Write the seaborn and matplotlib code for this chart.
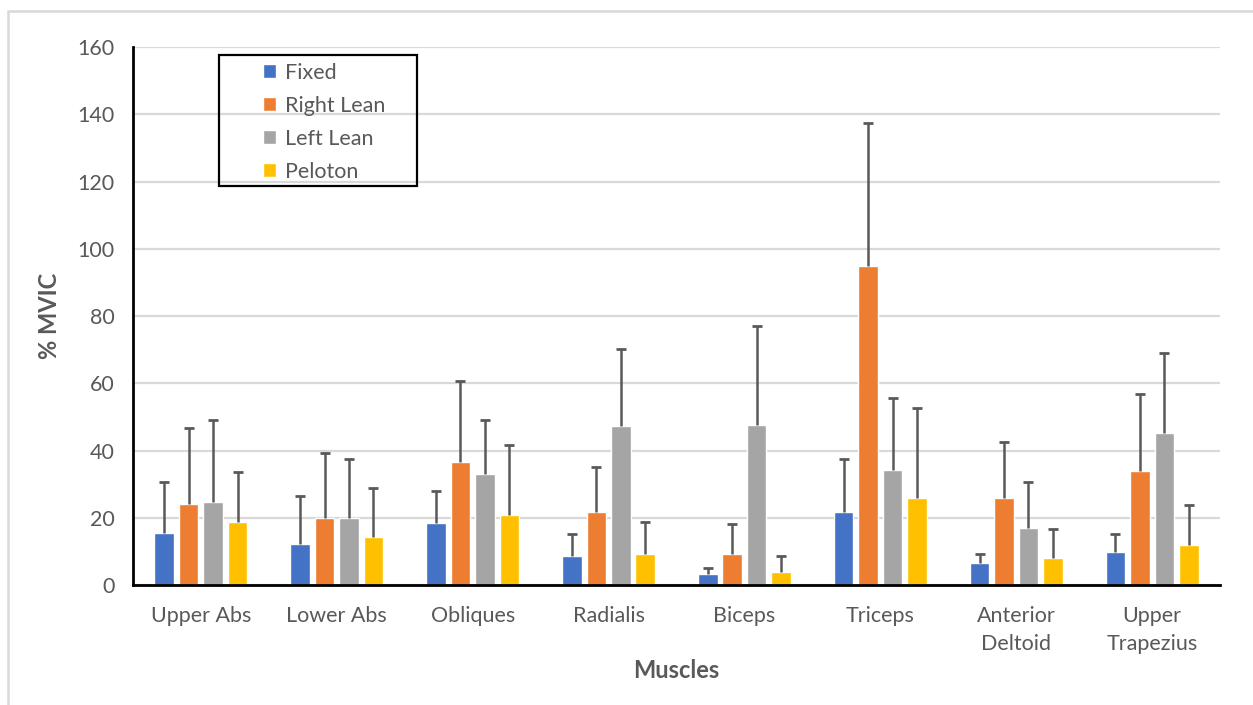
import seaborn as sns
import matplotlib.pyplot as plt
import matplotlib.patches as mpatches
import numpy as np
import pandas as pd


muscles = ['Upper Abs', 'Lower Abs', 'Obliques', 'Radialis', 'Biceps',
           'Triceps', 'Anterior\nDeltoid', 'Upper\nTrapezius']
conditions = ['Fixed', 'Right Lean', 'Left Lean', 'Peloton']

# mean %MVIC per condition
fixed = [15.4, 12.3, 18.3, 8.5, 3.2, 21.8, 6.6, 9.7]
right_lean = [24.0, 19.9, 36.7, 21.8, 9.3, 94.9, 26.0, 33.9]
left_lean = [24.8, 19.9, 33.1, 47.2, 47.6, 34.3, 17.1, 45.3]
peloton = [18.7, 14.2, 20.7, 9.3, 4.0, 26.0, 8.1, 11.9]

# standard deviations (upper error bars only)
fixed_sd = [15.2, 14.2, 9.7, 6.7, 2.0, 15.6, 2.5, 5.5]
right_lean_sd = [22.6, 19.4, 23.9, 13.4, 8.8, 42.4, 16.5, 22.8]
left_lean_sd = [24.4, 17.6, 16.1, 23.0, 29.5, 21.4, 13.5, 23.6]
peloton_sd = [15.0, 14.6, 20.9, 9.5, 4.6, 26.6, 8.5, 11.8]

means = [fixed, right_lean, left_lean, peloton]
sds = [fixed_sd, right_lean_sd, left_lean_sd, peloton_sd]

df = pd.DataFrame({
    'Muscle': np.tile(muscles, len(conditions)),
    'Condition': np.repeat(conditions, len(muscles)),
    'MVIC': np.concatenate(means),
})

palette = ['#4472C4', '#ED7D31', '#A5A5A5', '#FFC000']
text_color = '#595959'
grid_color = '#D9D9D9'

sns.set_style('white')
plt.rcParams['font.family'] = ['Lato', 'DejaVu Sans']

fig = plt.figure(figsize=(12.53, 7.05), dpi=100)
ax = fig.add_axes([0.1061, 0.1702, 0.8676, 0.7631])

sns.barplot(data=df, x='Muscle', y='MVIC', hue='Condition', palette=palette,
            width=0.72, gap=0.2, errorbar=None, saturation=1, ax=ax, zorder=2)

# upper error bars on each bar (hide the cap at the bar top)
for container, sd in zip(ax.containers, sds):
    xs = [p.get_x() + p.get_width() / 2 for p in container.patches]
    hs = [p.get_height() for p in container.patches]
    eb = ax.errorbar(xs, hs, yerr=[np.zeros(len(sd)), sd], fmt='none',
                     ecolor=text_color, elinewidth=1.8, capsize=3.8, capthick=2, zorder=3)
    eb[1][0].set_visible(False)

# axes styling
ax.set_ylim(0, 160)
ax.set_yticks(np.arange(0, 161, 20))
ax.set_xlim(-0.5, 7.5)
ax.yaxis.grid(True, color=grid_color, linewidth=1.6, zorder=0)
ax.set_axisbelow(True)
for side in ['top', 'right']:
    ax.spines[side].set_visible(False)
for side in ['left', 'bottom']:
    ax.spines[side].set_color('black')
    ax.spines[side].set_linewidth(2)
ax.tick_params(axis='both', length=0, labelsize=15.5, labelcolor=text_color)
ax.tick_params(axis='y', pad=13)
ax.tick_params(axis='x', pad=15)
for lbl in ax.get_xticklabels():
    lbl.set_linespacing(1.5)

ax.set_ylabel('% MVIC', fontsize=17, fontweight='bold', color=text_color, labelpad=12)
ax.set_xlabel('Muscles', fontsize=17, fontweight='bold', color=text_color, labelpad=4)

# legend with a separate black frame
ax.legend(loc='upper left', bbox_to_anchor=(0.1095, 0.9906), frameon=False,
          fontsize=15.5, handlelength=0.6, handleheight=0.65, handletextpad=0.45,
          labelspacing=0.6, borderpad=0, labelcolor=text_color)
ax.add_patch(mpatches.Rectangle((0.0791, 0.7416), 0.1822, 0.2435, transform=ax.transAxes,
                                fill=False, edgecolor='black', linewidth=1.6,
                                clip_on=False, zorder=5))

# outer chart border
fig.patches.append(mpatches.Rectangle((0.0064, -0.02), 1.1, 1.0044, transform=fig.transFigure,
                                      fill=False, edgecolor=grid_color, linewidth=1.8))

fig.savefig('out.png', dpi=100)
